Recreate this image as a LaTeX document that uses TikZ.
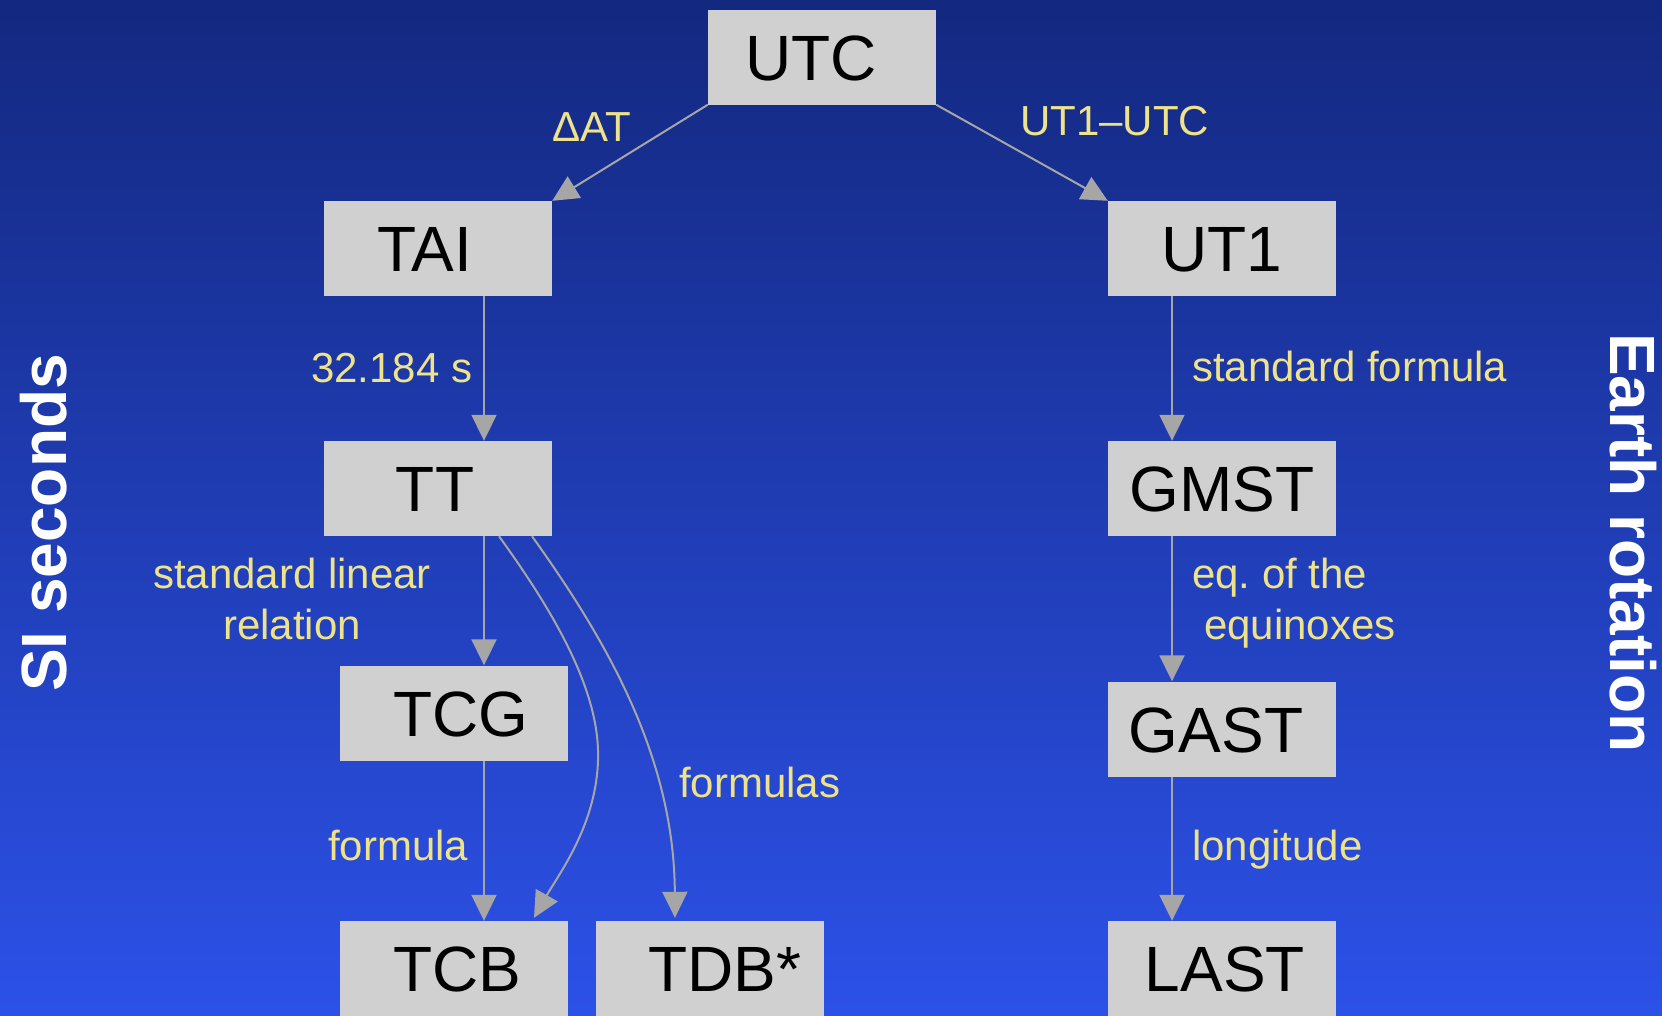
\documentclass[tikz,border=0pt]{standalone}
\usepackage{fontspec}
\setmainfont{Liberation Sans}
\usetikzlibrary{arrows.meta}
\definecolor{bgtop}{HTML}{13287F}
\definecolor{bgmid}{HTML}{2140C4}
\definecolor{bgbot}{HTML}{2C51E8}
\definecolor{boxgray}{HTML}{D0D0D0}
\definecolor{linkgray}{HTML}{A6A6A6}
\definecolor{labelyellow}{HTML}{EEE28A}
% centre of the text moved sideways by half of #1
\newcommand{\offsettext}[2]{\makebox[0pt][c]{\kern#1\relax#2}}
\frenchspacing

\begin{document}
\begin{tikzpicture}[x=1pt,y=-1pt,
  timebox/.style={fill=boxgray, minimum width=228pt, minimum height=95pt,
    inner sep=0pt, text height=46pt, text depth=0pt, text=black,
    font=\fontsize{64}{64}\selectfont},
  edgelabel/.style={text=labelyellow, inner sep=0pt,
    font=\fontsize{42}{51}\selectfont},
  sidelabel/.style={text=white, inner sep=0pt,
    font=\fontsize{64}{64}\selectfont\bfseries},
  link/.style={draw=linkgray, line width=2pt, -{Triangle[length=26pt,width=25pt]}}
]
% background
\useasboundingbox (0,0) rectangle (1662,1015);
\shade[top color=bgtop, middle color=bgmid, bottom color=bgbot] (0,0) rectangle (1662,1015);

% time scales
\node[timebox] (UTC)  at (822,57)     {\offsettext{-22pt}{UTC}};
\node[timebox] (TAI)  at (438,248.5)  {\offsettext{-26pt}{TAI}};
\node[timebox] (UT1)  at (1222,248.5) {\offsettext{0pt}{UT1}};
\node[timebox] (TT)   at (438,488.5)  {\offsettext{-6pt}{TT}};
\node[timebox] (GMST) at (1222,488.5) {\offsettext{0pt}{GMST}};
\node[timebox] (TCG)  at (454,713)    {\offsettext{14pt}{TCG}};
\node[timebox] (GAST) at (1222,729)   {\offsettext{-12pt}{GAST}};
\node[timebox] (TCB)  at (454,968.5)  {\offsettext{6pt}{TCB}};
\node[timebox] (TDB)  at (710,968.5)  {\offsettext{30pt}{TDB*}};
\node[timebox] (LAST) at (1222,968.5) {\offsettext{6pt}{LAST}};

% columns of the vertical links
\coordinate (leftcol) at (484,0);
\coordinate (rightcol) at (1172,0);

% links
\draw[link] (UTC.south west) -- (TAI.north east);
\draw[link] (UTC.south east) -- (UT1.north west);
\draw[link] (TAI.south -| leftcol) -- (TT.north -| leftcol);
\draw[link] (TT.south -| leftcol) -- (TCG.north -| leftcol);
\draw[link] (TCG.south -| leftcol) -- (TCB.north -| leftcol);
\draw[link] (UT1.south -| rightcol) -- (GMST.north -| rightcol);
\draw[link] (GMST.south -| rightcol) -- (GAST.north -| rightcol);
\draw[link] (GAST.south -| rightcol) -- (LAST.north -| rightcol);
\draw[link] ([xshift=61pt]TT.south) .. controls (545,600) and (596,680) .. (598,750)
  .. controls (600,820) and (560,872) .. ([xshift=80pt,yshift=3pt]TCB.north);
\draw[link] ([xshift=94pt]TT.south) .. controls (610,645) and (674,760)
  .. ([xshift=-35pt,yshift=3pt]TDB.north);

% link labels
\node[edgelabel, anchor=base west] (lDAT)     at (552,141)  {ΔAT};
\node[edgelabel, anchor=base west] (lUTdiff)  at (1020,135) {UT1–UTC};
\node[edgelabel, anchor=base west] (lTAITT)   at (311,382)  {32.184 s};
\node[edgelabel, anchor=base west] (lstdf)    at (1192,381) {standard formula};
\node[edgelabel, anchor=base]      (llinA)    at (292,588)  {standard linear};
\node[edgelabel, anchor=base]      (llinB)    at (292,639)  {relation};
\node[edgelabel, anchor=base west] (leqA)     at (1192,588) {eq. of the};
\node[edgelabel, anchor=base west] (leqB)     at (1204,639) {equinoxes};
\node[edgelabel, anchor=base west] (lformulas) at (679,797) {formulas};
\node[edgelabel, anchor=base west] (lformula) at (328,860)  {formula};
\node[edgelabel, anchor=base west] (llong)    at (1192,860) {longitude};

% side titles
\node[sidelabel, rotate=90]  (si)    at (44,523)   {SI seconds};
\node[sidelabel, rotate=-90] (earth) at (1633,543) {Earth rotation};
\end{tikzpicture}
\end{document}
